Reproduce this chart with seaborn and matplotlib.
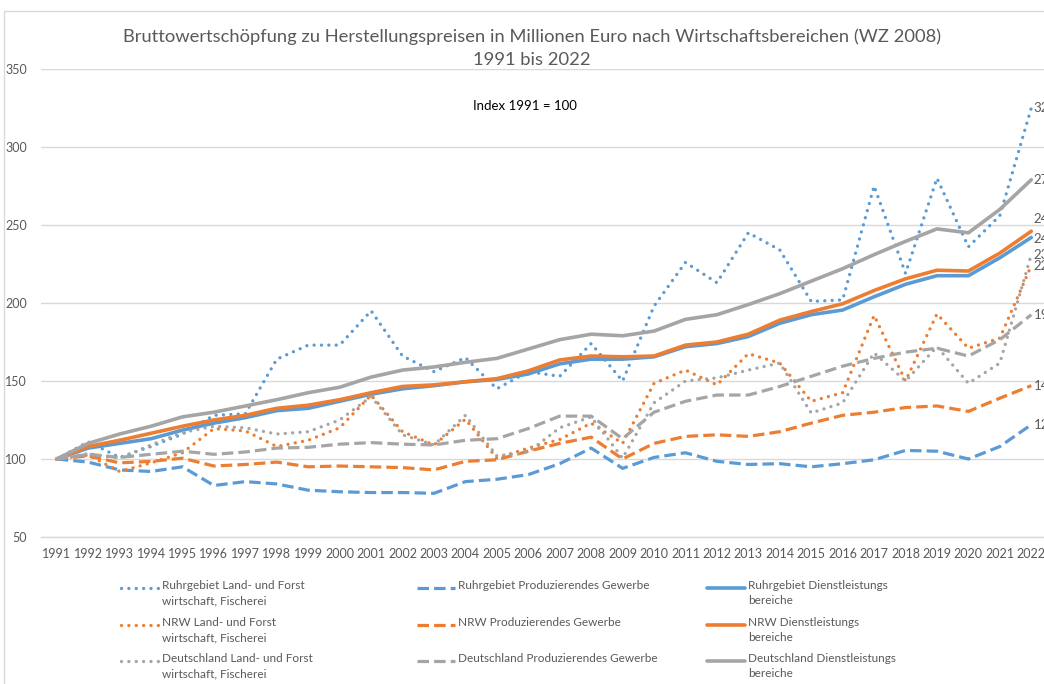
import numpy as np
import pandas as pd
import matplotlib
matplotlib.use("Agg")
import matplotlib.pyplot as plt
from matplotlib.lines import Line2D
import seaborn as sns

years = list(range(1991, 2023))

# Index 1991 = 100
ruhr_luf = [100, 111, 101, 108, 116, 128, 129, 164, 173, 173, 195, 166, 156, 165, 145, 156,
            153, 174, 150, 198, 226, 213, 245, 234, 201, 202, 275, 219, 280, 236, 256, 325]
ruhr_prod = [100, 98, 93, 92, 95, 83, 85.5, 84, 80, 79, 78.5, 78.5, 78, 85.5, 87, 90,
             97, 107, 94, 101, 104, 98.5, 96.5, 97, 95, 97, 99.5, 105.5, 105, 100, 108, 122]
ruhr_dienst = [100, 107, 110, 113, 118.5, 123, 126.5, 131, 132.5, 137, 141.5, 145, 147, 149.5, 151, 154.5,
               161, 164, 164, 165.5, 172, 174, 178.5, 187, 192.5, 195.5, 204, 212, 217.5, 217.5, 229, 242]
nrw_luf = [100, 102.5, 92, 97.5, 104, 119.5, 118, 108, 112, 120, 141, 117.5, 109, 125.5, 100.5, 107,
           112.5, 123, 110, 148.5, 157, 147.5, 167.5, 161.5, 137, 142.5, 192, 150, 193, 171, 177.5, 224]
nrw_prod = [100, 102, 97.5, 98.5, 100.5, 95.5, 96.5, 98, 95, 95.5, 95, 94.5, 93, 98.5, 99.5, 105,
            110, 114, 100, 110, 114.5, 115.5, 114.5, 117.5, 123, 128, 130, 133, 134, 130.5, 139, 147]
nrw_dienst = [100, 108, 112, 116.5, 121, 125, 128, 132.5, 134.5, 138, 142.5, 146.5, 147.5, 149.5, 151.5, 156.5,
              163.5, 166, 165.5, 166, 173, 175, 180, 189, 194.5, 199.5, 208, 215.5, 221, 220.5, 232, 246]
de_luf = [100, 103.5, 100.5, 109, 117, 121, 120, 116, 117.5, 125, 140, 115.5, 109, 128, 102, 104.5,
          120, 127, 100.5, 136, 150, 152, 157, 161.5, 129.5, 136, 168, 150, 172, 148.5, 161.5, 231]
de_prod = [100, 103, 101, 103, 105, 103, 104.5, 107, 107.5, 109.5, 110.5, 109.5, 109, 112, 113, 119.5,
           127.5, 127.5, 113, 130, 137, 141, 141, 146.5, 153, 159.5, 164.5, 168.5, 171, 166, 176.5, 192.5]
de_dienst = [100, 110, 116, 121, 127, 130, 134, 138, 142.5, 146, 152.5, 157, 159, 162, 164.5, 170.5,
             176.5, 180, 179, 182, 189.5, 192.5, 199, 206, 214, 222, 231, 239.5, 247.5, 245, 260, 279]

labels = [
    "Ruhrgebiet Land- und Forst\nwirtschaft, Fischerei", "Ruhrgebiet Produzierendes Gewerbe",
    "Ruhrgebiet Dienstleistungs\nbereiche",
    "NRW Land- und Forst\nwirtschaft, Fischerei", "NRW Produzierendes Gewerbe",
    "NRW Dienstleistungs\nbereiche",
    "Deutschland Land- und Forst\nwirtschaft, Fischerei", "Deutschland Produzierendes Gewerbe",
    "Deutschland Dienstleistungs\nbereiche",
]
values = [ruhr_luf, ruhr_prod, ruhr_dienst, nrw_luf, nrw_prod, nrw_dienst, de_luf, de_prod, de_dienst]

blue, orange, gray = "#5B9BD5", "#ED7D31", "#A5A5A5"
colors = [blue, blue, blue, orange, orange, orange, gray, gray, gray]
dotted = dict(linestyle=(0, (0.01, 2.2)), dash_capstyle="round", linewidth=2.4)
dashed = dict(linestyle=(0, (3.6, 1.6)), dash_capstyle="butt", linewidth=2.3)
solid = dict(linestyle="-", linewidth=2.6, solid_capstyle="round")
styles = [dotted, dashed, solid] * 3
# label shift (points) for the clipped value labels at the right edge
label_dy = [0, 0, -1, 0, 0, 9, 0, 0, 0]

text_col = "#595959"
grid_col = "#D9D9D9"

sns.set_style("white")
plt.rcParams["font.family"] = ["Lato", "DejaVu Sans"]

W, H = 1044, 684
fig = plt.figure(figsize=(W / 100, H / 100), dpi=100)


def fx(px):
    return px / W


def fy(py):
    return 1 - py / H


ax = fig.add_axes([fx(41), fy(537), fx(1006), 468 / H])

df = pd.DataFrame({"Jahr": years})
for lab, vals, col, st in zip(labels, values, colors, styles):
    df["v"] = vals
    sns.lineplot(data=df, x="Jahr", y="v", ax=ax, color=col, **st)

# value labels at the right edge (cut by the figure edge, as in the original)
for vals, dy in zip(values, label_dy):
    ax.annotate(f"{vals[-1]:.0f}", xy=(years[-1], vals[-1]), xytext=(1.5, dy),
                textcoords="offset points", ha="left", va="center",
                fontsize=9.5, color=text_col, annotation_clip=False)

ax.set_xlim(1990.5, 2022.5)
ax.set_ylim(50, 350)
ax.set_xticks(years)
ax.set_xticklabels([str(y) for y in years])
ax.set_xticks([y - 0.5 for y in years] + [2022.5], minor=True)
ax.set_yticks(range(50, 351, 50))
ax.tick_params(axis="both", which="major", length=0, labelsize=9, labelcolor=text_col)
ax.tick_params(axis="x", which="major", pad=8)
ax.tick_params(axis="y", which="major", pad=10)
ax.tick_params(axis="x", which="minor", length=4, color=grid_col, width=1)
ax.grid(axis="y", color=grid_col, linewidth=1)
ax.set_xlabel("")
ax.set_ylabel("")
for s in ["top", "right", "left"]:
    ax.spines[s].set_visible(False)
ax.spines["bottom"].set_color(grid_col)
ax.spines["bottom"].set_linewidth(1)

# chart area border
fig.add_artist(Line2D([fx(4), 1], [fy(11), fy(11)], color=grid_col, lw=1))
fig.add_artist(Line2D([fx(4), fx(4)], [fy(11), 0], color=grid_col, lw=1))

fig.text(fx(532), fy(37), "Bruttowertschöpfung zu Herstellungspreisen in Millionen Euro nach Wirtschaftsbereichen (WZ 2008)",
         ha="center", va="center", fontsize=13.2, color=text_col)
fig.text(fx(532), fy(60), "1991 bis 2022", ha="center", va="center", fontsize=13.2, color=text_col)
fig.text(fx(525), fy(106), "Index 1991 = 100", ha="center", va="center", fontsize=9.5, color="black")

# legend, three columns, row-wise like the original
col_x = [121, 417, 707]
row_y = [588, 625, 661]
for i, (lab, col, st) in enumerate(zip(labels, colors, styles)):
    r, c = divmod(i, 3)
    x0, y0 = col_x[c], row_y[r]
    fig.add_artist(Line2D([fx(x0), fx(x0 + 38)], [fy(y0), fy(y0)], color=col, **st))
    fig.text(fx(x0 + 41), fy(y0 - 8), lab, ha="left", va="top", fontsize=8.5,
             color=text_col, linespacing=1.45)

fig.savefig("out.png", dpi=100)
